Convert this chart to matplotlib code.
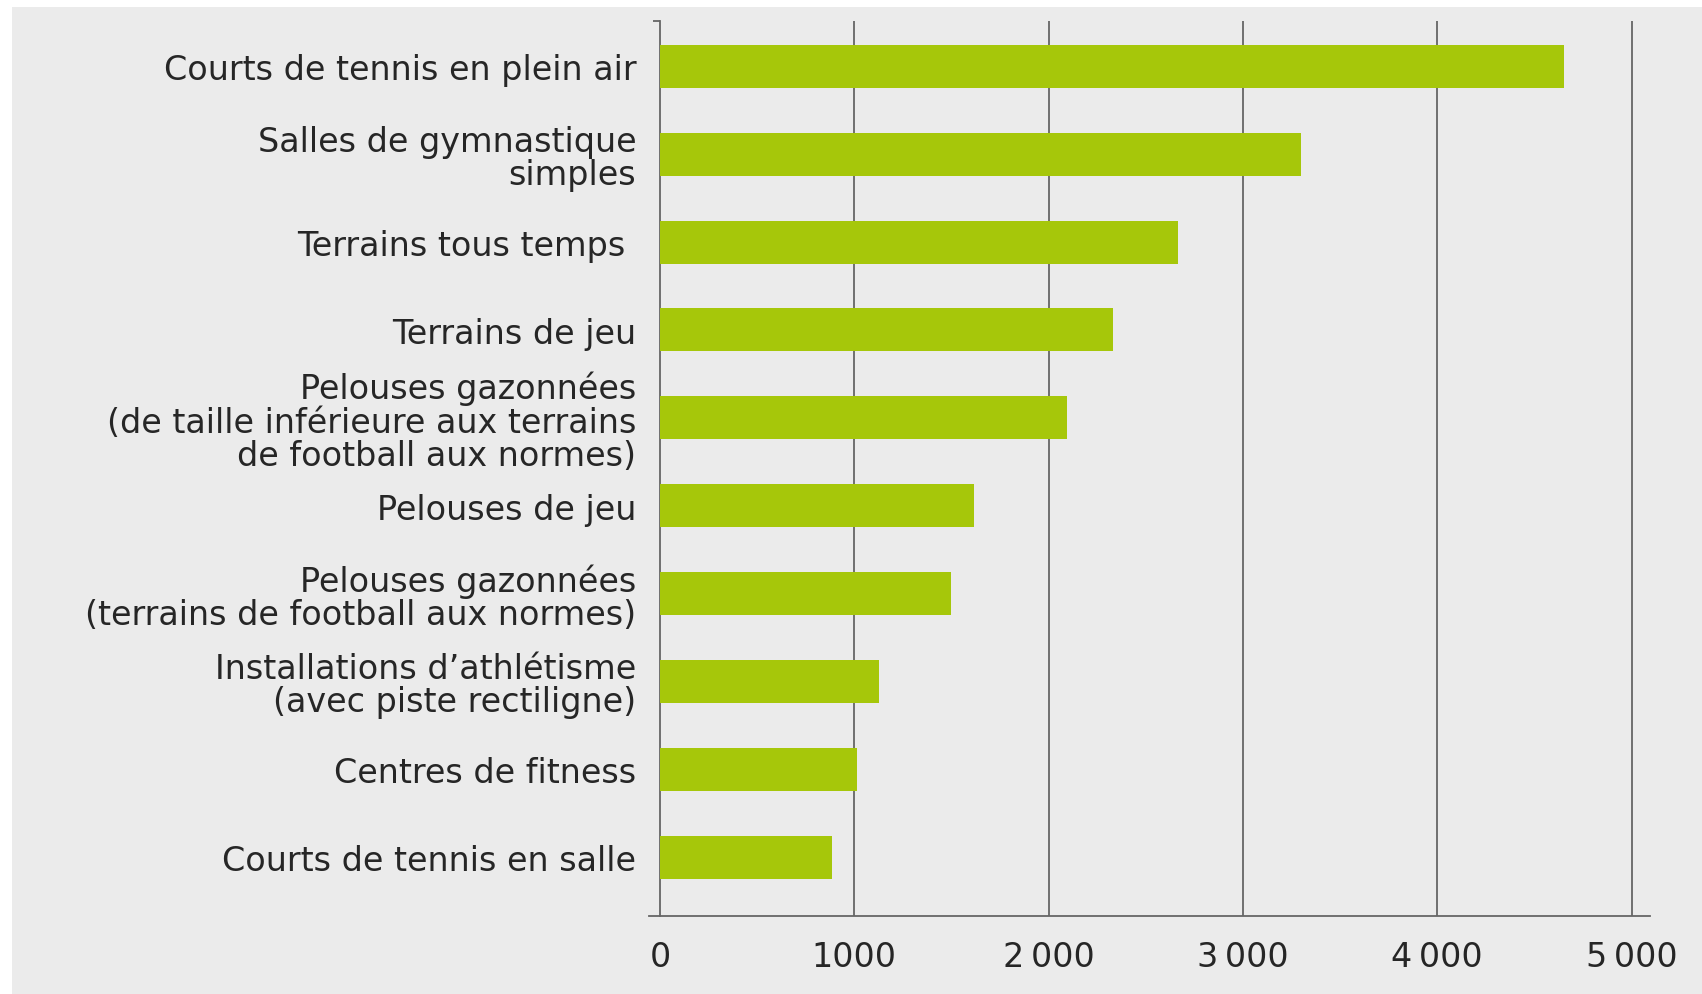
import matplotlib
matplotlib.use("Agg")
import matplotlib.pyplot as plt
from matplotlib.patches import Rectangle

categories = [
    "Courts de tennis en plein air",
    "Salles de gymnastique\nsimples",
    "Terrains tous temps ",
    "Terrains de jeu",
    "Pelouses gazonnées\n(de taille inférieure aux terrains\nde football aux normes)",
    "Pelouses de jeu",
    "Pelouses gazonnées\n(terrains de football aux normes)",
    "Installations d\u2019athlétisme\n(avec piste rectiligne)",
    "Centres de fitness",
    "Courts de tennis en salle",
]
values = [4650, 3300, 2665, 2330, 2095, 1615, 1497, 1128, 1015, 888]
xticks = [0, 1000, 2000, 3000, 4000, 5000]
xticklabels = ["0", "1000", "2\u2009000", "3\u2009000", "4\u2009000", "5\u2009000"]

plt.rcParams['font.family'] = ['DejaVu Sans']

W, H = 1702, 995
fig = plt.figure(figsize=(W / 100, H / 100), dpi=100)
fig.patch.set_facecolor("white")
bg = "#ebebeb"
fig.patches.append(Rectangle((12 / W, 0), 1, 1 - 8 / H, transform=fig.transFigure,
                             facecolor=bg, edgecolor="none", zorder=-10))

ax = fig.add_axes([649 / W, 1 - 917 / H, (1650 - 649) / W, (917 - 21.7) / H])
ax.set_facecolor(bg)
ax.patch.set_alpha(0)

ypos = list(range(len(categories)))
ax.barh(ypos, values, height=0.49, color="#a6c70a", zorder=3)

ax.set_xlim(-56, 5095)
ax.set_ylim(9.67, -0.52)

grid_c = "#666666"
for t in xticks[1:]:
    ax.axvline(t, color=grid_c, lw=1.3, zorder=2)

for s in ["top", "right"]:
    ax.spines[s].set_visible(False)
ax.spines["left"].set_position(("data", 0))
ax.spines["left"].set_color(grid_c)
ax.spines["left"].set_linewidth(1.3)
ax.spines["bottom"].set_color(grid_c)
ax.spines["bottom"].set_linewidth(1.3)

ax.set_yticks(ypos)
ax.set_yticklabels(categories, fontsize=24, color="#262626", linespacing=1.02)
ax.tick_params(axis="y", which="major", length=0, pad=17)
ax.set_yticks([-0.52], minor=True)
ax.tick_params(axis="y", which="minor", length=5, width=1.3, color=grid_c, direction="out")

ax.set_xticks(xticks)
ax.set_xticklabels(xticklabels, fontsize=24, color="#262626")
ax.tick_params(axis="x", length=0, pad=17)

fig.savefig("out.png", dpi=100, facecolor=fig.get_facecolor())
